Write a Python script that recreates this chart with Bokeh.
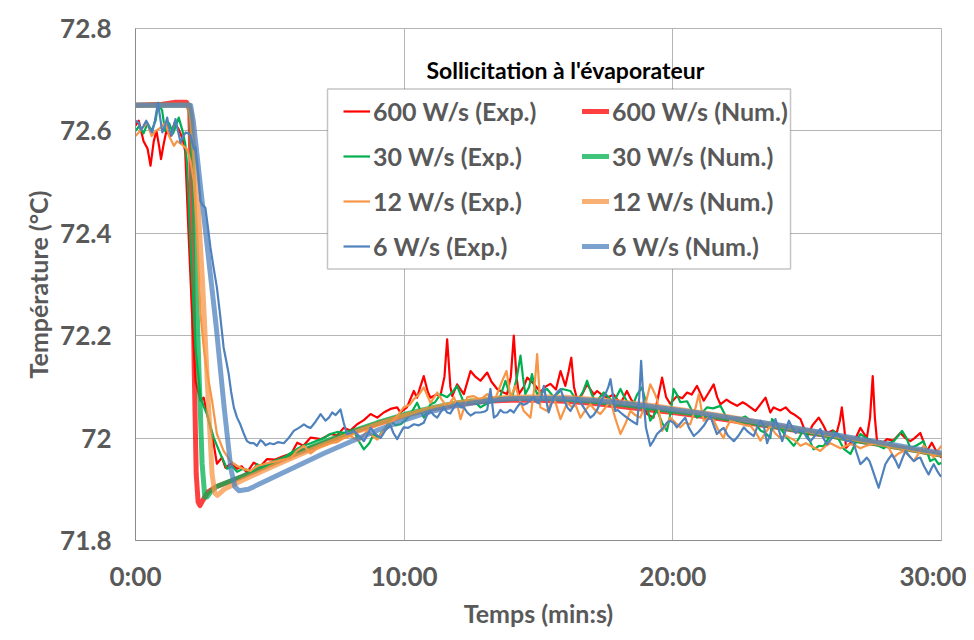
from bokeh.plotting import figure
from bokeh.models import Range1d, FixedTicker, Legend, LegendItem, Label, BoxAnnotation
from bokeh.embed import file_html
from bokeh.resources import INLINE

# ---------------- data (time in minutes, temperature in °C) ----------------
x_ticks = [0, 10, 20, 30]
x_tick_labels = ["0:00", "10:00", "20:00", "30:00"]
y_ticks = [71.8, 72.0, 72.2, 72.4, 72.6, 72.8]
y_tick_labels = ["71.8", "72", "72.2", "72.4", "72.6", "72.8"]

labels_exp = ["600 W/s (Exp.)", "30 W/s (Exp.)", "12 W/s (Exp.)", "6 W/s (Exp.)"]
labels_num = ["600 W/s (Num.)", "30 W/s (Num.)", "12 W/s (Num.)", "6 W/s (Num.)"]
colors = ["#FF0000", "#00B050", "#F79646", "#4F81BD"]

t_600_exp = [0.0, 0.12, 0.3, 0.45, 0.56, 0.68, 0.78, 0.88, 0.95, 1.05, 1.15, 1.3, 1.45, 1.6, 1.75, 1.85, 1.97, 2.1, 2.23, 2.42, 2.54, 2.66, 2.85, 3.03, 3.22, 3.35, 3.55, 3.78, 3.95, 4.15, 4.4, 4.65, 4.9, 5.2, 5.52, 5.8, 6.02, 6.25, 6.52, 6.9, 7.26, 7.5, 7.75, 8.0, 8.25, 8.5, 8.75, 9.0, 9.24, 9.49, 9.74, 9.86, 10.1, 10.36, 10.48, 10.6, 10.73, 10.88, 10.98, 11.2, 11.35, 11.5, 11.6, 11.72, 11.79, 11.97, 12.1, 12.22, 12.47, 12.65, 12.84, 13.09, 13.25, 13.46, 13.65, 13.83, 13.97, 14.08, 14.18, 14.27, 14.45, 14.58, 14.83, 15.07, 15.25, 15.44, 15.65, 15.82, 16.0, 16.12, 16.22, 16.32, 16.44, 16.62, 16.81, 17.06, 17.18, 17.35, 17.55, 17.8, 18.05, 18.29, 18.45, 18.67, 18.85, 19.04, 19.28, 19.45, 19.6, 19.75, 19.9, 20.15, 20.35, 20.53, 20.7, 20.9, 21.15, 21.35, 21.52, 21.65, 21.77, 22.0, 22.14, 22.39, 22.6, 22.76, 23.07, 23.26, 23.45, 23.63, 23.75, 24.0, 24.2, 24.38, 24.55, 24.75, 25.0, 25.2, 25.43, 25.6, 25.74, 25.95, 26.1, 26.22, 26.29, 26.38, 26.45, 26.6, 26.73, 26.85, 26.98, 27.1, 27.22, 27.34, 27.44, 27.52, 27.6, 27.8, 27.97, 28.2, 28.47, 28.65, 28.84, 29.0, 29.21, 29.35, 29.46, 29.64, 29.8, 30.0]
T_600_exp = [72.61, 72.62, 72.58, 72.565, 72.532, 72.58, 72.6, 72.57, 72.545, 72.575, 72.6, 72.59, 72.615, 72.604, 72.585, 72.56, 72.405, 72.25, 72.112, 72.073, 72.079, 72.047, 72.008, 71.95, 71.962, 71.942, 71.95, 71.94, 71.945, 71.933, 71.952, 71.945, 71.959, 71.958, 71.965, 71.97, 71.991, 71.985, 72.001, 71.998, 72.008, 72.005, 72.02, 72.015, 72.027, 72.035, 72.047, 72.04, 72.05, 72.057, 72.06, 72.05, 72.06, 72.092, 72.079, 72.1, 72.121, 72.09, 72.079, 72.085, 72.083, 72.12, 72.193, 72.1, 72.082, 72.105, 72.095, 72.086, 72.131, 72.12, 72.112, 72.128, 72.11, 72.096, 72.09, 72.086, 72.12, 72.2, 72.12, 72.086, 72.1, 72.118, 72.106, 72.09, 72.1, 72.106, 72.095, 72.131, 72.102, 72.13, 72.157, 72.1, 72.075, 72.085, 72.105, 72.085, 72.092, 72.085, 72.079, 72.085, 72.067, 72.092, 72.075, 72.06, 72.065, 72.047, 72.04, 72.08, 72.118, 72.08, 72.067, 72.082, 72.078, 72.089, 72.085, 72.102, 72.073, 72.09, 72.105, 72.08, 72.066, 72.075, 72.07, 72.063, 72.07, 72.065, 72.053, 72.066, 72.079, 72.05, 72.06, 72.054, 72.06, 72.05, 72.045, 72.037, 72.004, 72.025, 72.04, 72.025, 72.01, 72.015, 72.01, 72.035, 72.06, 72.02, 71.981, 71.99, 71.994, 72.005, 72.02, 72.01, 72.0, 72.04, 72.121, 72.04, 71.994, 71.99, 71.998, 71.995, 72.01, 72.0, 71.994, 72.0, 72.01, 71.99, 71.975, 71.991, 71.975, 71.962]

t_30_exp = [0.0, 0.15, 0.3, 0.45, 0.6, 0.75, 0.85, 0.99, 1.1, 1.25, 1.4, 1.5, 1.61, 1.75, 1.85, 1.92, 2.05, 2.23, 2.42, 2.55, 2.66, 2.91, 3.16, 3.41, 3.6, 3.78, 4.0, 4.15, 4.35, 4.52, 4.77, 4.95, 5.14, 5.35, 5.52, 5.75, 6.02, 6.25, 6.52, 6.75, 7.01, 7.25, 7.51, 7.8, 8.13, 8.3, 8.5, 8.7, 8.87, 9.05, 9.12, 9.3, 9.49, 9.68, 9.86, 10.05, 10.24, 10.48, 10.6, 10.73, 10.98, 11.15, 11.35, 11.6, 11.8, 11.97, 12.1, 12.22, 12.47, 12.65, 12.84, 13.0, 13.21, 13.4, 13.58, 13.77, 13.9, 14.02, 14.2, 14.33, 14.42, 14.51, 14.65, 14.76, 14.85, 14.95, 15.15, 15.32, 15.57, 15.88, 16.19, 16.44, 16.65, 16.81, 16.95, 17.12, 17.43, 17.6, 17.8, 18.05, 18.2, 18.36, 18.55, 18.67, 18.85, 19.0, 19.16, 19.3, 19.41, 19.6, 19.78, 19.92, 20.03, 20.15, 20.28, 20.53, 20.7, 20.9, 21.1, 21.27, 21.5, 21.77, 21.95, 22.14, 22.35, 22.51, 22.7, 22.89, 23.05, 23.26, 23.45, 23.63, 23.69, 23.85, 24.0, 24.25, 24.5, 24.7, 24.87, 25.05, 25.24, 25.45, 25.61, 25.8, 25.99, 26.15, 26.36, 26.61, 26.8, 26.98, 27.2, 27.48, 27.65, 27.85, 28.05, 28.22, 28.4, 28.53, 28.7, 28.84, 29.05, 29.21, 29.33, 29.45, 29.58, 29.75, 29.89, 30.0]
T_30_exp = [72.6, 72.61, 72.595, 72.615, 72.6, 72.62, 72.655, 72.64, 72.6, 72.615, 72.595, 72.61, 72.626, 72.6, 72.575, 72.535, 72.372, 72.177, 72.08, 72.06, 72.047, 72.001, 71.969, 71.94, 71.945, 71.934, 71.94, 71.938, 71.935, 71.949, 71.94, 71.95, 71.955, 71.958, 71.96, 71.97, 71.979, 71.985, 71.99, 71.995, 72.0, 72.008, 72.012, 72.01, 72.014, 71.995, 71.978, 71.99, 72.008, 72.0, 72.008, 72.02, 72.034, 72.025, 72.027, 72.035, 72.047, 72.069, 72.055, 72.04, 72.066, 72.07, 72.086, 72.08, 72.09, 72.102, 72.085, 72.069, 72.075, 72.07, 72.06, 72.065, 72.07, 72.075, 72.082, 72.112, 72.09, 72.08, 72.12, 72.161, 72.12, 72.086, 72.1, 72.125, 72.1, 72.086, 72.09, 72.096, 72.08, 72.096, 72.092, 72.072, 72.09, 72.112, 72.09, 72.069, 72.089, 72.08, 72.07, 72.096, 72.08, 72.066, 72.07, 72.085, 72.099, 72.07, 72.034, 72.045, 72.055, 72.03, 72.014, 72.05, 72.096, 72.085, 72.07, 72.072, 72.055, 72.04, 72.05, 72.06, 72.058, 72.063, 72.045, 72.034, 72.04, 72.038, 72.042, 72.034, 72.03, 72.015, 72.01, 72.0, 72.037, 72.03, 72.02, 72.0, 71.985, 72.0, 72.018, 72.0, 71.978, 71.985, 71.984, 72.0, 72.014, 72.0, 71.979, 71.969, 71.99, 72.008, 72.0, 71.994, 71.985, 71.98, 71.99, 71.994, 72.005, 72.014, 72.0, 71.98, 71.985, 71.99, 71.994, 71.975, 71.955, 71.96, 71.949, 71.952]

t_12_exp = [0.0, 0.12, 0.25, 0.43, 0.6, 0.75, 0.9, 1.12, 1.25, 1.43, 1.55, 1.68, 1.8, 1.92, 2.05, 2.17, 2.29, 2.42, 2.54, 2.66, 2.85, 3.03, 3.28, 3.53, 3.78, 4.0, 4.28, 4.5, 4.77, 5.0, 5.27, 5.5, 5.77, 6.0, 6.27, 6.52, 6.75, 7.01, 7.25, 7.51, 7.75, 8.0, 8.32, 8.62, 8.8, 9.0, 9.25, 9.49, 9.7, 9.98, 10.2, 10.36, 10.55, 10.73, 10.98, 11.23, 11.4, 11.6, 11.85, 12.0, 12.1, 12.35, 12.59, 12.84, 13.09, 13.25, 13.4, 13.65, 13.81, 13.96, 14.14, 14.3, 14.45, 14.7, 14.85, 14.95, 15.07, 15.32, 15.57, 15.82, 16.07, 16.25, 16.38, 16.56, 16.75, 16.93, 17.1, 17.3, 17.5, 17.68, 17.85, 18.05, 18.25, 18.42, 18.6, 18.79, 19.0, 19.16, 19.3, 19.41, 19.6, 19.75, 19.9, 20.1, 20.28, 20.45, 20.65, 20.85, 20.97, 21.05, 21.15, 21.35, 21.52, 21.7, 21.89, 22.0, 22.14, 22.35, 22.51, 22.7, 22.89, 23.1, 23.26, 23.45, 23.63, 23.8, 24.0, 24.2, 24.38, 24.55, 24.75, 24.95, 25.12, 25.3, 25.49, 25.7, 25.87, 26.05, 26.24, 26.45, 26.61, 26.8, 26.98, 27.2, 27.36, 27.55, 27.73, 27.9, 28.04, 28.22, 28.4, 28.59, 28.8, 28.97, 29.15, 29.33, 29.5, 29.71, 29.85, 30.0]
T_12_exp = [72.59, 72.597, 72.605, 72.616, 72.59, 72.6, 72.605, 72.616, 72.59, 72.571, 72.58, 72.575, 72.57, 72.564, 72.54, 72.502, 72.405, 72.242, 72.177, 72.131, 72.073, 72.008, 71.975, 71.955, 71.946, 71.94, 71.936, 71.945, 71.949, 71.952, 71.955, 71.958, 71.96, 71.975, 71.985, 71.97, 71.98, 71.985, 71.99, 71.992, 72.0, 72.004, 71.995, 72.014, 72.005, 71.997, 72.015, 72.03, 72.04, 72.06, 72.065, 72.076, 72.085, 72.099, 72.069, 72.089, 72.075, 72.06, 72.08, 72.06, 72.037, 72.08, 72.082, 72.075, 72.086, 72.08, 72.078, 72.112, 72.131, 72.08, 72.102, 72.075, 72.053, 72.04, 72.1, 72.164, 72.06, 72.053, 72.08, 72.037, 72.069, 72.06, 72.065, 72.04, 72.055, 72.066, 72.055, 72.047, 72.06, 72.073, 72.04, 72.008, 72.03, 72.053, 72.045, 72.04, 72.07, 72.105, 72.09, 72.076, 72.014, 72.025, 72.04, 72.03, 72.021, 72.03, 72.027, 72.06, 72.086, 72.06, 72.034, 72.04, 72.035, 72.015, 72.0, 72.02, 72.034, 72.03, 72.028, 72.025, 72.024, 72.01, 71.995, 72.01, 72.024, 72.01, 72.0, 72.005, 72.0, 71.995, 71.985, 71.99, 71.985, 71.98, 71.975, 71.985, 71.99, 71.985, 71.98, 71.985, 71.988, 71.985, 71.98, 71.985, 71.987, 71.99, 71.994, 71.99, 71.981, 71.962, 71.97, 71.975, 71.965, 71.955, 71.97, 71.985, 71.975, 71.962, 71.975, 71.985]

t_6_exp = [0.0, 0.12, 0.2, 0.3, 0.4, 0.52, 0.62, 0.72, 0.84, 0.92, 1.0, 1.1, 1.18, 1.27, 1.35, 1.42, 1.49, 1.58, 1.68, 1.78, 1.87, 1.97, 2.05, 2.17, 2.23, 2.33, 2.42, 2.5, 2.6, 2.7, 2.79, 2.9, 3.03, 3.15, 3.28, 3.38, 3.47, 3.56, 3.66, 3.78, 3.9, 4.02, 4.15, 4.28, 4.4, 4.52, 4.65, 4.75, 4.84, 5.0, 5.14, 5.3, 5.52, 5.7, 5.89, 6.08, 6.27, 6.4, 6.52, 6.7, 6.89, 7.07, 7.2, 7.32, 7.45, 7.63, 7.75, 7.87, 8.0, 8.13, 8.3, 8.5, 8.62, 8.75, 8.9, 9.12, 9.3, 9.49, 9.6, 9.74, 9.86, 9.98, 10.15, 10.36, 10.55, 10.73, 10.85, 10.98, 11.1, 11.23, 11.35, 11.47, 11.6, 11.72, 11.85, 11.97, 12.1, 12.22, 12.35, 12.47, 12.65, 12.84, 13.0, 13.09, 13.21, 13.34, 13.47, 13.58, 13.7, 13.83, 13.95, 14.08, 14.2, 14.33, 14.45, 14.58, 14.7, 14.83, 14.93, 15.01, 15.1, 15.2, 15.3, 15.38, 15.47, 15.57, 15.7, 15.82, 15.95, 16.07, 16.19, 16.32, 16.44, 16.56, 16.68, 16.8, 16.93, 17.05, 17.18, 17.35, 17.49, 17.6, 17.68, 17.78, 17.86, 17.95, 18.05, 18.17, 18.29, 18.42, 18.54, 18.67, 18.75, 18.82, 18.9, 19.0, 19.16, 19.28, 19.41, 19.55, 19.66, 19.78, 19.9, 20.03, 20.15, 20.3, 20.46, 20.6, 20.78, 20.95, 21.15, 21.28, 21.4, 21.52, 21.64, 21.77, 21.89, 22.05, 22.27, 22.45, 22.64, 22.8, 23.01, 23.13, 23.26, 23.38, 23.51, 23.65, 23.82, 23.95, 24.07, 24.2, 24.32, 24.45, 24.57, 24.72, 24.87, 25.0, 25.12, 25.3, 25.49, 25.6, 25.74, 25.92, 26.1, 26.3, 26.48, 26.6, 26.73, 26.85, 26.98, 27.1, 27.22, 27.32, 27.41, 27.55, 27.66, 27.78, 27.91, 28.04, 28.16, 28.3, 28.41, 28.54, 28.66, 28.8, 28.97, 29.1, 29.21, 29.35, 29.52, 29.62, 29.71, 29.85, 29.96, 30.0]
T_6_exp = [72.62, 72.616, 72.602, 72.61, 72.62, 72.605, 72.597, 72.62, 72.655, 72.625, 72.597, 72.61, 72.626, 72.6, 72.591, 72.61, 72.623, 72.6, 72.577, 72.59, 72.597, 72.595, 72.591, 72.565, 72.568, 72.52, 72.463, 72.455, 72.45, 72.41, 72.372, 72.335, 72.294, 72.24, 72.177, 72.15, 72.125, 72.09, 72.06, 72.04, 72.027, 72.01, 71.994, 71.99, 71.99, 71.985, 71.996, 71.992, 71.986, 71.99, 71.988, 71.992, 71.99, 72.0, 72.014, 72.02, 72.027, 72.022, 72.02, 72.032, 72.047, 72.034, 72.04, 72.05, 72.045, 72.056, 72.03, 72.008, 72.01, 72.014, 72.005, 71.994, 72.005, 72.02, 72.01, 72.0, 72.015, 72.025, 72.01, 71.998, 72.01, 72.021, 72.02, 72.027, 72.025, 72.03, 72.045, 72.053, 72.045, 72.04, 72.05, 72.06, 72.05, 72.048, 72.06, 72.069, 72.06, 72.06, 72.05, 72.044, 72.05, 72.05, 72.052, 72.055, 72.096, 72.04, 72.045, 72.055, 72.05, 72.05, 72.055, 72.05, 72.06, 72.069, 72.065, 72.068, 72.075, 72.08, 72.07, 72.068, 72.08, 72.102, 72.07, 72.05, 72.065, 72.08, 72.09, 72.096, 72.075, 72.06, 72.053, 72.065, 72.079, 72.07, 72.06, 72.05, 72.04, 72.045, 72.055, 72.075, 72.086, 72.1, 72.115, 72.08, 72.053, 72.055, 72.05, 72.045, 72.04, 72.035, 72.031, 72.027, 72.08, 72.151, 72.08, 72.02, 71.985, 71.995, 72.008, 72.015, 72.021, 72.03, 72.034, 72.03, 72.021, 72.03, 72.04, 72.02, 72.004, 72.012, 72.024, 72.035, 72.043, 72.025, 72.008, 72.015, 72.02, 72.005, 71.994, 72.005, 72.021, 72.012, 72.004, 72.02, 72.034, 72.025, 71.99, 72.01, 72.037, 72.015, 71.994, 72.015, 72.034, 72.02, 72.01, 72.015, 72.012, 72.0, 71.994, 72.005, 72.018, 72.0, 71.988, 72.0, 72.01, 72.0, 71.994, 71.995, 71.99, 71.97, 71.949, 71.955, 71.962, 71.955, 71.942, 71.92, 71.903, 71.925, 71.949, 71.96, 71.968, 71.955, 71.942, 71.96, 71.975, 71.965, 71.955, 71.96, 71.962, 71.945, 71.929, 71.94, 71.949, 71.935, 71.926, 71.928]

t_600_num = [0.0, 1.0, 1.5, 1.9, 2.02, 2.1, 2.18, 2.26, 2.33, 2.4, 2.5, 2.7, 3.0, 4.0, 5.0, 6.0, 7.0, 8.0, 9.0, 10.0, 11.0, 12.0, 13.0, 14.0, 15.0, 16.0, 17.0, 18.0, 19.0, 20.0, 21.0, 22.0, 23.0, 24.0, 25.0, 26.0, 27.0, 28.0, 29.0, 30.0]
T_600_num = [72.65, 72.652, 72.656, 72.656, 72.64, 72.45, 72.15, 71.93, 71.875, 71.868, 71.878, 71.895, 71.905, 71.925, 71.948, 71.97, 71.99, 72.01, 72.028, 72.044, 72.057, 72.066, 72.072, 72.074, 72.074, 72.072, 72.068, 72.062, 72.056, 72.05, 72.043, 72.036, 72.028, 72.02, 72.011, 72.003, 71.994, 71.985, 71.976, 71.967]

t_30_num = [0.0, 2.0, 2.08, 2.2, 2.35, 2.48, 2.58, 2.66, 2.8, 3.0, 4.0, 5.0, 6.0, 7.0, 8.0, 9.0, 10.0, 11.0, 12.0, 13.0, 14.0, 15.0, 16.0, 17.0, 18.0, 19.0, 20.0, 21.0, 22.0, 23.0, 24.0, 25.0, 26.0, 27.0, 28.0, 29.0, 30.0]
T_30_num = [72.65, 72.65, 72.62, 72.42, 72.15, 71.95, 71.885, 71.885, 71.895, 71.905, 71.926, 71.949, 71.971, 71.992, 72.012, 72.03, 72.046, 72.059, 72.069, 72.075, 72.078, 72.078, 72.076, 72.072, 72.066, 72.06, 72.053, 72.046, 72.038, 72.03, 72.021, 72.012, 72.003, 71.994, 71.985, 71.976, 71.967]

t_12_num = [0.0, 2.0, 2.08, 2.3, 2.5, 2.7, 2.85, 2.95, 3.05, 3.3, 4.0, 5.0, 6.0, 7.0, 8.0, 9.0, 10.0, 11.0, 12.0, 13.0, 14.0, 15.0, 16.0, 17.0, 18.0, 19.0, 20.0, 21.0, 22.0, 23.0, 24.0, 25.0, 26.0, 27.0, 28.0, 29.0, 30.0]
T_12_num = [72.65, 72.65, 72.63, 72.48, 72.3, 72.08, 71.93, 71.893, 71.888, 71.9, 71.918, 71.942, 71.965, 71.987, 72.008, 72.027, 72.044, 72.058, 72.069, 72.076, 72.08, 72.081, 72.08, 72.076, 72.071, 72.065, 72.058, 72.05, 72.042, 72.033, 72.024, 72.015, 72.005, 71.996, 71.986, 71.977, 71.968]

t_6_num = [0.0, 2.05, 2.15, 2.4, 2.7, 3.0, 3.3, 3.55, 3.7, 3.85, 4.2, 5.0, 6.0, 7.0, 8.0, 9.0, 10.0, 11.0, 12.0, 13.0, 14.0, 15.0, 16.0, 17.0, 18.0, 19.0, 20.0, 21.0, 22.0, 23.0, 24.0, 25.0, 26.0, 27.0, 28.0, 29.0, 30.0]
T_6_num = [72.65, 72.65, 72.62, 72.5, 72.36, 72.22, 72.06, 71.94, 71.905, 71.897, 71.9, 71.92, 71.945, 71.97, 71.993, 72.015, 72.035, 72.052, 72.064, 72.072, 72.077, 72.078, 72.077, 72.074, 72.069, 72.063, 72.056, 72.049, 72.041, 72.033, 72.025, 72.016, 72.007, 71.998, 71.989, 71.98, 71.971]

exp_series = [(t_600_exp, T_600_exp), (t_30_exp, T_30_exp), (t_12_exp, T_12_exp), (t_6_exp, T_6_exp)]
num_series = [(t_600_num, T_600_num), (t_30_num, T_30_num), (t_12_num, T_12_num), (t_6_num, T_6_num)]

legend_title = "Sollicitation à l'évaporateur"
x_title = "Temps (min:s)"
y_title = "Température (°C)"

# ---------------- figure ----------------
FONT = "Lato"
GREY_TXT = "#595959"

p = figure(frame_width=806, frame_height=512,
           min_border_left=135, min_border_right=25, min_border_top=28, min_border_bottom=92,
           x_range=Range1d(0, 30), y_range=Range1d(71.8, 72.8),
           output_backend="svg", toolbar_location=None,
           background_fill_color="white", border_fill_color="white")
p.outline_line_color = "#b5b5b5"

# axes
for ax in (p.xaxis[0], p.yaxis[0]):
    ax.axis_line_color = "#8c8c8c"
    ax.axis_line_width = 1
    ax.major_tick_line_color = None
    ax.minor_tick_line_color = None
    ax.major_tick_out = 0
    ax.major_tick_in = 0
    ax.minor_tick_out = 0
    ax.major_label_text_font = FONT
    ax.major_label_text_font_style = "bold"
    ax.major_label_text_font_size = "26px"
    ax.major_label_text_color = GREY_TXT
    ax.axis_label_text_font = FONT
    ax.axis_label_text_font_style = "bold"
    ax.axis_label_text_font_size = "25px"
    ax.axis_label_text_color = GREY_TXT

p.xaxis.ticker = FixedTicker(ticks=x_ticks)
p.xaxis.major_label_overrides = {k: v for k, v in zip(x_ticks, x_tick_labels)}
p.yaxis.ticker = FixedTicker(ticks=y_ticks)
p.yaxis.major_label_overrides = {k: v for k, v in zip(y_ticks, y_tick_labels)}
p.xaxis.major_label_standoff = 19
p.yaxis.major_label_standoff = 24
p.xaxis.axis_label = x_title
p.yaxis.axis_label = y_title
p.xaxis.axis_label_standoff = 3
p.yaxis.axis_label_standoff = 4

p.xgrid.ticker = FixedTicker(ticks=x_ticks)
p.ygrid.ticker = FixedTicker(ticks=y_ticks)
for g in (p.xgrid[0], p.ygrid[0]):
    g.grid_line_color = "#b5b5b5"
    g.grid_line_width = 1

# series (Excel order: Exp then Num for each rate)
exp_renderers = []
num_renderers = []
for (te, Te), (tn, Tn), c in zip(exp_series, num_series, colors):
    r1 = p.line(te, Te, line_color=c, line_width=2.2, line_join="round")
    r2 = p.line(tn, Tn, line_color=c, line_alpha=0.75, line_width=5,
                line_join="round", line_cap="round")
    exp_renderers.append(r1)
    num_renderers.append(r2)

# legend frame (opaque box) + title
box = BoxAnnotation(left=7.146, right=24.38, top=72.682, bottom=72.3305,
                    fill_color="white", fill_alpha=1.0,
                    line_color="#3f3f3f", line_width=1.5, level="annotation")
p.add_layout(box)

title = Label(x=16.0, y=72.719, text=legend_title, text_align="center",
              text_baseline="middle", text_font=FONT, text_font_style="bold",
              text_font_size="23px", text_color="black")
p.add_layout(title)

def make_legend(labels, renderers, xloc):
    lg = Legend(items=[LegendItem(label=l, renderers=[r]) for l, r in zip(labels, renderers)],
                location=(xloc, 279), orientation="vertical",
                border_line_color=None, background_fill_alpha=0.0,
                padding=0, margin=0, spacing=15,
                glyph_width=27, glyph_height=30, label_height=30, label_standoff=3,
                label_text_font=FONT, label_text_font_style="bold",
                label_text_font_size="25px", label_text_color=GREY_TXT)
    return lg

p.add_layout(make_legend(labels_exp, exp_renderers, 208), "center")
p.add_layout(make_legend(labels_num, num_renderers, 447), "center")

open("out.html", "w").write(file_html(p, INLINE))
